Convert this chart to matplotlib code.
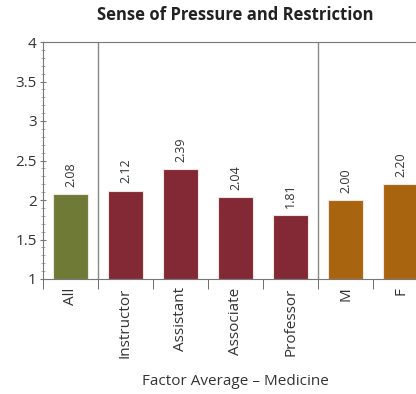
import matplotlib.pyplot as plt
from matplotlib.ticker import MultipleLocator

plt.rcParams['font.family'] = ['Open Sans', 'DejaVu Sans']

categories = ["All", "Instructor", "Assistant", "Associate", "Professor", "M", "F"]
values = [2.08, 2.12, 2.39, 2.04, 1.81, 2.00, 2.20]
labels = ["2.08", "2.12", "2.39", "2.04", "1.81", "2.00", "2.20"]
colors = ["#6e7a36", "#822935", "#822935", "#822935", "#822935", "#a9640f", "#a9640f"]

fig = plt.figure(figsize=(4.16, 3.94), dpi=100)
ax = fig.add_axes([43 / 416, 1 - 279 / 394, 385 / 416, 237 / 394])

x = list(range(len(categories)))
ax.bar(x, [v - 1 for v in values], bottom=1, width=0.62, color=colors,
       edgecolor="#f0e6e0", linewidth=0.8)

for xi, v, lab in zip(x, values, labels):
    ax.text(xi, v + 0.09, lab, rotation=90, ha="center", va="bottom",
            fontsize=9, color="#333333")

ax.set_xlim(-0.5, len(categories) - 0.5)
ax.set_ylim(1, 4)

# group separators
for sep in [0.5, 4.5]:
    ax.axvline(sep, color="#888888", linewidth=1)

ax.set_xticks(x)
ax.set_xticklabels(categories, rotation=90, fontsize=11, color="#333333")
ax.tick_params(axis="x", length=0, pad=6)
ax.set_xticks([i - 0.5 for i in range(len(categories) + 1)], minor=True)
ax.tick_params(axis="x", which="minor", length=7, direction="out", color="#555555")

ax.yaxis.set_major_locator(MultipleLocator(0.5))
ax.yaxis.set_minor_locator(MultipleLocator(0.1))
ax.set_yticks([1, 1.5, 2, 2.5, 3, 3.5, 4])
ax.set_yticklabels(["1", "1.5", "2", "2.5", "3", "3.5", "4"], fontsize=11, color="#333333")
ax.tick_params(axis="y", which="major", length=5, direction="inout", color="#777777", pad=2)
ax.tick_params(axis="y", which="minor", length=2.5, direction="inout", color="#999999")

for side in ["left", "bottom", "top"]:
    ax.spines[side].set_color("#777777")
ax.spines["right"].set_visible(False)

ax.set_xlabel("Factor Average – Medicine", fontsize=11, color="#333333", labelpad=12)
ax.set_title("Sense of Pressure and Restriction", fontsize=12, fontweight="bold",
             color="#222222", pad=16)

fig.savefig("out.png", dpi=100)
